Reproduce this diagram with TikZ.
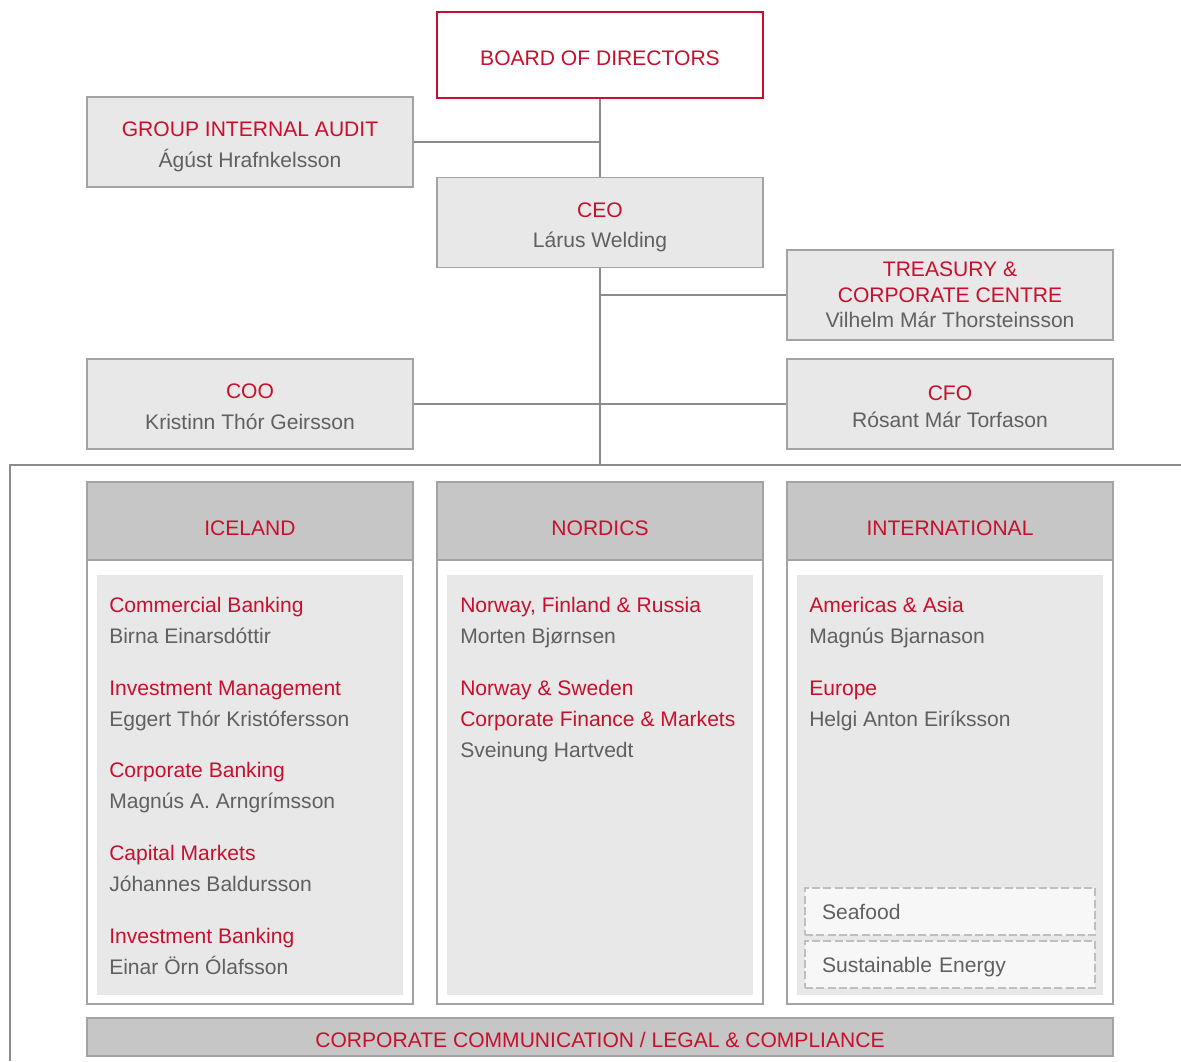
\documentclass[tikz,border=0pt]{standalone}
\usepackage{fontspec}
\setmainfont{Liberation Sans}
\usepackage{tikz}

\definecolor{gbred}{HTML}{C8102E}
\definecolor{gbtext}{HTML}{606060}
\definecolor{gbfill}{HTML}{E8E8E8}
\definecolor{gbhead}{HTML}{C6C6C6}
\definecolor{gbpale}{HTML}{F7F7F7}
\definecolor{gbline}{HTML}{A3A3A3}
\definecolor{gblink}{HTML}{8C8C8C}

% title line and name line of a box
\newcommand{\duo}[2]{\rule{0pt}{19pt}\textcolor{gbred}{#1}\\ #2\rule[-4pt]{0pt}{4pt}}

\begin{document}
\begin{tikzpicture}[x=0.75pt, y=-0.75pt,
  font=\fontsize{15.8pt}{23.2pt}\selectfont,
  box/.style={draw=gbline, line width=1.1pt, fill=gbfill, minimum width=244.5pt,
    minimum height=67.5pt, align=center, inner sep=0pt, text=gbtext},
  boardbox/.style={box, draw=gbred, fill=white, minimum height=64.5pt, text=gbred,
    text height=15pt, text depth=0pt},
  link/.style={draw=gblink, line width=1.3pt},
  col/.style={draw=gbline, line width=1.1pt, fill=white, minimum width=244.5pt,
    minimum height=391.5pt, inner sep=0pt},
  head/.style={draw=gbline, line width=1.1pt, fill=gbhead, minimum width=244.5pt,
    minimum height=58.5pt, inner sep=0pt, text=gbred, text height=21pt, text depth=0pt},
  panel/.style={fill=gbfill, minimum width=229.5pt, minimum height=315pt, inner sep=0pt},
  unit/.style={anchor=west, inner sep=0pt, text height=12pt, text depth=0pt, text=gbred},
  who/.style={unit, text=gbtext},
  sector/.style={draw=gbline!70, dash pattern=on 6pt off 2.5pt, line width=0.9pt, fill=gbpale,
    minimum width=217.5pt, minimum height=35.25pt, text width=192pt, inner xsep=12.75pt,
    inner ysep=0pt, align=left, text=gbtext, text height=12pt, text depth=0pt},
  corpbar/.style={draw=gbline, line width=1.1pt, fill=gbhead, minimum width=769.5pt,
    minimum height=28.5pt, inner sep=0pt, text=gbred, text height=15pt, text depth=0pt},
]
  \useasboundingbox (0,0) rectangle (1181,1061);

  % top of the chart
  \node[boardbox] (board) at (600,55) {BOARD OF DIRECTORS};
  \node[box] (audit) at (250,142) {\duo{GROUP INTERNAL AUDIT}{Ágúst Hrafnkelsson}};
  \node[box] (ceo) at (600,222.5) {\duo{CEO}{Lárus Welding}};
  \node[box, font=\fontsize{15.8pt}{19.2pt}\selectfont] (treasury) at (950,295)
    {\textcolor{gbred}{TREASURY \&}\\ \textcolor{gbred}{CORPORATE CENTRE}\\ Vilhelm Már Thorsteinsson};
  \node[box] (coo) at (250,404) {\duo{COO}{Kristinn Thór Geirsson}};
  \node[box, font=\fontsize{15.8pt}{20.5pt}\selectfont] (cfo) at (950,404) {\duo{CFO}{Rósant Már Torfason}};

  % frame round the business units
  \coordinate (frame-nw) at (10,465);
  \coordinate (frame-ne) at (1181,465);
  \coordinate (frame-sw) at (10,1061);
  \draw[link] (frame-ne) -- (frame-nw) -- (frame-sw);

  % reporting lines
  \draw[link] (board.south) -- (ceo.north);
  \draw[link] (audit.east) -- (audit.east -| ceo.north);
  \draw[link] (ceo.south) -- (ceo.south |- frame-nw);
  \draw[link] (treasury.west) -- (treasury.west -| ceo.south);
  \draw[link] (coo.east) -- (cfo.west);

  % business units
  \foreach \x/\name/\id in {250/ICELAND/ice, 600/NORDICS/nor, 950/INTERNATIONAL/int} {
    \node[col] (\id) at (\x,743) {};
    \node[head] (\id-head) at (\x,521) {\name};
    \node[panel] (\id-panel) at (\x,785) {};
  }

  % Iceland
  \foreach \y/\s/\t [count=\i] in {605/unit/Commercial Banking, 636/who/Birna Einarsdóttir,
      688/unit/Investment Management, 719/who/Eggert Thór Kristófersson,
      770/unit/Corporate Banking, 801/who/Magnús A. Arngrímsson,
      853/unit/Capital Markets, 884/who/Jóhannes Baldursson,
      936/unit/Investment Banking, 967/who/Einar Örn Ólafsson}
    \node[\s] (ice-\i) at (109,\y-1) {\t};

  % Nordics
  \foreach \y/\s/\t [count=\i] in {605/unit/{Norway, Finland \& Russia}, 636/who/Morten Bjørnsen,
      688/unit/Norway \& Sweden, 719/unit/Corporate Finance \& Markets,
      750/who/Sveinung Hartvedt}
    \node[\s] (nor-\i) at (460,\y-1) {\t};

  % International
  \foreach \y/\s/\t [count=\i] in {605/unit/Americas \& Asia, 636/who/Magnús Bjarnason,
      688/unit/Europe, 719/who/Helgi Anton Eiríksson}
    \node[\s] (int-\i) at (809,\y-1) {\t};
  \node[sector] (seafood) at (950,911.5) {Seafood};
  \node[sector] (energy) at (950,964.5) {Sustainable Energy};

  % group functions
  \node[corpbar] (corp) at (600,1037) {CORPORATE COMMUNICATION / LEGAL \& COMPLIANCE};
\end{tikzpicture}
\end{document}
